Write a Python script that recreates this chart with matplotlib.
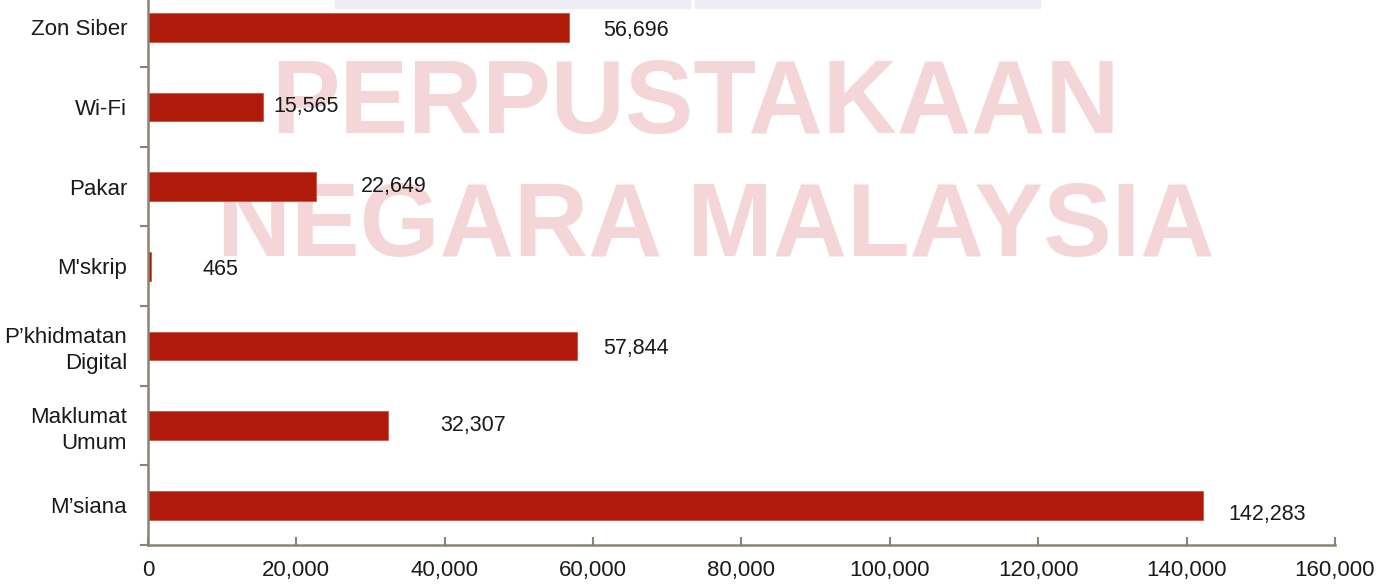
import matplotlib.pyplot as plt
from matplotlib.patches import Rectangle
from matplotlib.ticker import MultipleLocator, FixedLocator, FuncFormatter

plt.rcParams['font.family'] = ['Liberation Sans', 'DejaVu Sans']

# Data (top to bottom as in the chart)
categories = ['Zon Siber', 'Wi-Fi', 'Pakar', "M'skrip",
              'P’khidmatan\nDigital', 'Maklumat\nUmum', 'M’siana']
values = [56696, 15565, 22649, 465, 57844, 32307, 142283]

# label offsets (points) from the bar end, as in the original layout
label_dx = [25, 7, 32, 37, 19, 38, 18]
label_dy = [-2, 0, 0, -2, -2, 0, -7]

bar_color = '#b01a0b'
axis_color = '#8a8470'
mark_color = '#f5d6d8'

fig = plt.figure(figsize=(13.8, 5.85), dpi=100)
ax = fig.add_axes([0.1072, 0.0684, 0.8601, 0.953])

ypos = list(range(len(categories)))
ax.barh(ypos, values, height=0.36, color=bar_color, edgecolor='#c8583c',
        linewidth=0.6, zorder=2)

for y, v, dx, dy in zip(ypos, values, label_dx, label_dy):
    ax.annotate(f'{v:,}', xy=(v, y), xytext=(dx, dy), textcoords='offset points',
                ha='left', va='center', fontsize=15.5, color='#1a1a1a', zorder=3)

ax.set_ylim(len(categories) - 0.5, -0.5)
ax.set_xlim(0, 160000)

ax.xaxis.set_major_locator(MultipleLocator(20000))
ax.xaxis.set_major_formatter(FuncFormatter(lambda x, p: f'{int(x):,}'))
ax.tick_params(axis='x', direction='in', length=6, width=1.5, color=axis_color,
               labelsize=16, pad=11, labelcolor='#1a1a1a')

ax.set_yticks(ypos)
ax.set_yticklabels(categories)
for lab in ax.get_yticklabels():
    lab.set_va('center_baseline')
    lab.set_linespacing(1.3)
ax.yaxis.set_minor_locator(FixedLocator([i + 0.5 for i in range(-1, len(categories))]))
ax.tick_params(axis='y', which='major', length=0, labelsize=16, pad=15,
               labelcolor='#1a1a1a')
ax.tick_params(axis='y', which='minor', direction='out', length=6, width=1.5,
               color=axis_color)

for side in ['top', 'right']:
    ax.spines[side].set_visible(False)
for side in ['left', 'bottom']:
    ax.spines[side].set_color(axis_color)
    ax.spines[side].set_linewidth(1.8)

# watermark
ax.text(0.504, 0.818, 'PERPUSTAKAAN', transform=fig.transFigure, ha='center',
        va='center', fontsize=74, fontweight='bold', color=mark_color, zorder=0)
ax.text(0.519, 0.607, 'NEGARA MALAYSIA', transform=fig.transFigure, ha='center',
        va='center', fontsize=74, fontweight='bold', color=mark_color, zorder=0)

# faint boxes cut off at the top edge
fig.patches.append(Rectangle((335 / 1380, 1 - 8 / 585), 355 / 1380, 8 / 585,
                             transform=fig.transFigure, color='#ededf4', zorder=0))
fig.patches.append(Rectangle((695 / 1380, 1 - 8 / 585), 345 / 1380, 8 / 585,
                             transform=fig.transFigure, color='#ededf4', zorder=0))

fig.savefig('out.png', dpi=100)
